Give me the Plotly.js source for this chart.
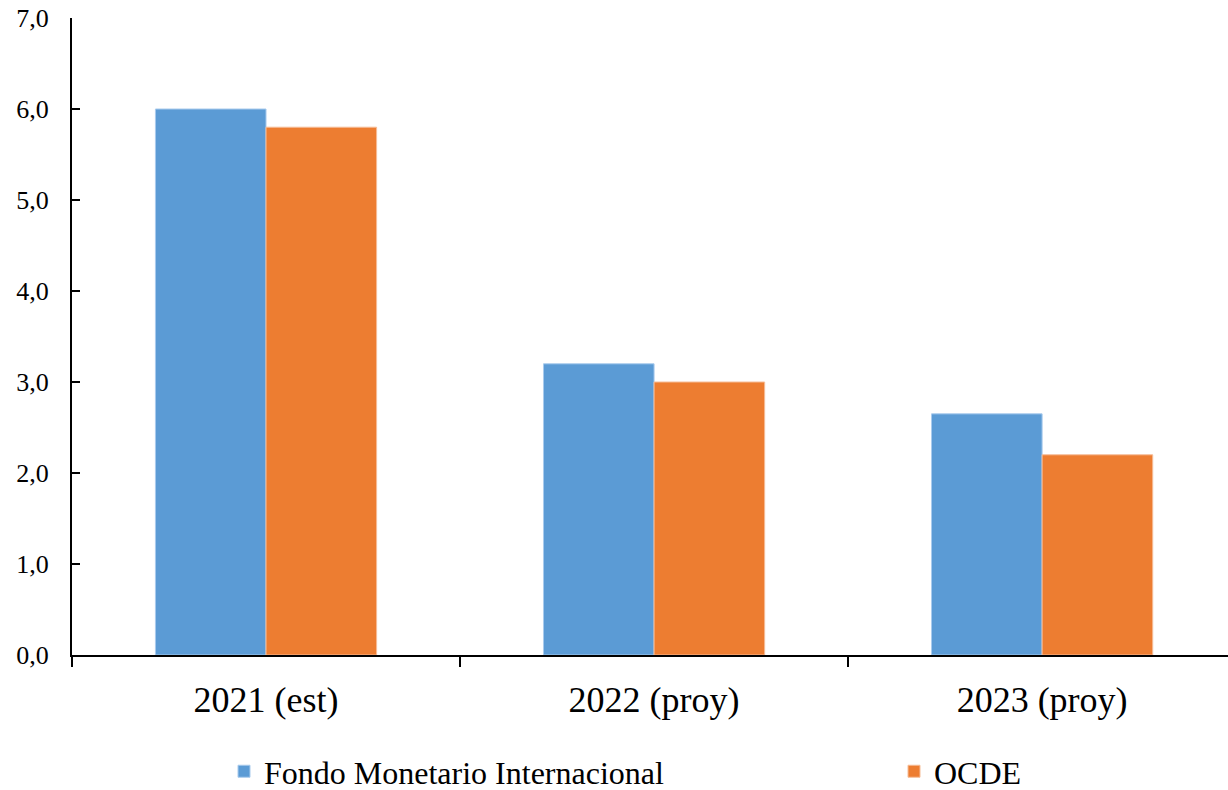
<!DOCTYPE html>
<html>
<head>
<meta charset="utf-8">
<script src="https://cdn.plot.ly/plotly-3.0.1.min.js"></script>
<style>
  html, body { margin: 0; padding: 0; background: #fff; overflow: hidden; }
  #chart { width: 1228px; height: 790px; }
</style>
</head>
<body>
<div id="chart"></div>
<script>
// categories and values
var categories = ["2021 (est)", "2022 (proy)", "2023 (proy)"]
var fmiValues = [6.0, 3.2, 2.65]
var ocdeValues = [5.8, 3.0, 2.2]
var seriesNames = ["Fondo Monetario Internacional", "OCDE"]
var yTicks = [0, 1, 2, 3, 4, 5, 6, 7]

var serif = "'Liberation Serif', 'Times New Roman', serif"

var data = [
    {
        type: "bar",
        name: seriesNames[0],
        x: categories,
        y: fmiValues,
        marker: {color: "#5b9bd5", line: {color: "#a9cbed", width: 1}},
        legend: "legend",
        hoverinfo: "none"
    },
    {
        type: "bar",
        name: seriesNames[1],
        x: categories,
        y: ocdeValues,
        marker: {color: "#ed7d31", line: {color: "#f6bd98", width: 1}},
        legend: "legend2",
        hoverinfo: "none"
    }
]

// one legend per series so each entry can sit where the original has it
function legendAt(x) {
    return {
        orientation: "h",
        x: x,
        xref: "container",
        xanchor: "left",
        y: 0.0235,
        yref: "container",
        yanchor: "middle",
        font: {family: serif, size: 32, color: "#000"},
        itemwidth: 30,
        borderwidth: 0,
        bgcolor: "rgba(0,0,0,0)"
    }
}

var layout = {
    width: 1228,
    height: 790,
    paper_bgcolor: "#fff",
    plot_bgcolor: "#fff",
    margin: {l: 72, r: 0, t: 18, b: 135},
    barmode: "group",
    bargap: 0.43,
    bargroupgap: 0,
    separators: ",.",
    font: {family: serif, color: "#000"},
    xaxis: {
        type: "category",
        // the original plot runs a little past the right edge of the picture
        range: [-0.5, 2.479],
        showline: true,
        linecolor: "#000",
        linewidth: 2,
        ticks: "outside",
        tickson: "boundaries",
        ticklen: 10,
        tickwidth: 1.5,
        tickcolor: "#000",
        ticklabelstandoff: 12,
        tickfont: {family: serif, size: 36, color: "#000"},
        showgrid: false,
        zeroline: false,
        automargin: false
    },
    yaxis: {
        range: [0, 7],
        tickvals: yTicks,
        tickformat: ".1f",
        showline: true,
        linecolor: "#000",
        linewidth: 2,
        ticks: "inside",
        ticklen: 8,
        tickwidth: 1.5,
        tickcolor: "#000",
        ticklabelstandoff: 16,
        tickfont: {family: serif, size: 26, color: "#000"},
        showgrid: false,
        zeroline: false,
        automargin: false
    },
    showlegend: true,
    legend: legendAt(224 / 1228),
    legend2: legendAt(894 / 1228)
}

Plotly.newPlot("chart", data, layout, {staticPlot: true})
</script>
</body>
</html>
